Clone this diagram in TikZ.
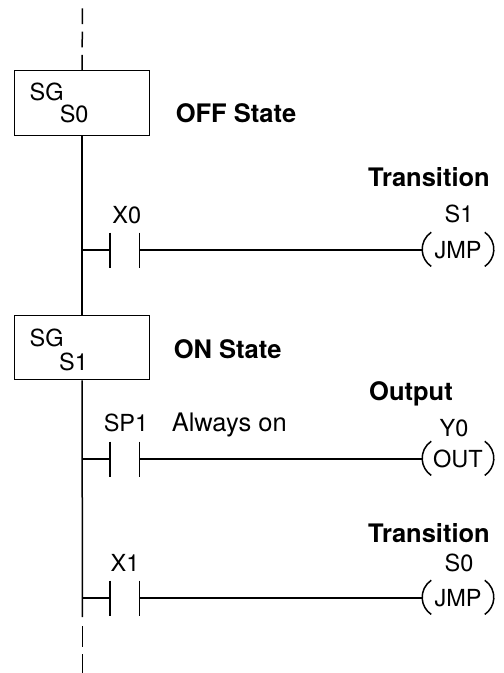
\documentclass[tikz,border=0pt]{standalone}
\usepackage{fontspec}
\setmainfont{TeX Gyre Heros}
\usepackage{tikz}

\tikzset{
    lbl/.style={font=\fontsize{23.5}{28}\selectfont, anchor=base, inner sep=0pt},
    ttl/.style={font=\bfseries\fontsize{25.5}{30}\selectfont, anchor=base, inner sep=0pt},
    stagebox/.style={draw, minimum width=135pt, minimum height=64.5pt, inner sep=0pt, line width=1.3pt},
    coil/.style={minimum width=70pt, minimum height=34pt, inner sep=0pt, font=\fontsize{23.5}{28}\selectfont},
}

\begin{document}
\begin{tikzpicture}[x=1pt,y=-1pt,line width=1.5pt]
    \useasboundingbox (0,0) rectangle (504,673);

    \coordinate (top) at (82.3, 8.3);
    \coordinate (railend) at (82.3, 617);
    \coordinate (dashstart) at (82.3, 626);
    \coordinate (bottom) at (82.3, 673);
    \coordinate (r0) at (82.3, 250);
    \coordinate (r1) at (82.3, 459);
    \coordinate (r2) at (82.3, 598);
    \coordinate (x0a) at (110, 250);
    \coordinate (x0b) at (139.5, 250);
    \coordinate (sp1a) at (110, 459);
    \coordinate (sp1b) at (139.5, 459);
    \coordinate (x1a) at (110, 598);
    \coordinate (x1b) at (139.5, 598);

    \node[stagebox] (sg0) at (82.2, 102.9) {}; % OFF
    \node[stagebox] (sg1) at (82.2, 347.5) {}; % ON
    \node[lbl, anchor=base west] (sg0a) at (29, 100) {SG};
    \node[lbl, anchor=base west] (sg0b) at (59, 122.5) {S0};
    \node[lbl, anchor=base west] (sg1a) at (29, 346.7) {SG};
    \node[lbl, anchor=base west] (sg1b) at (58.5, 370) {S1};
    \node[ttl, anchor=base west] (off) at (175, 122) {OFF State};
    \node[ttl, anchor=base west] (on) at (173, 358.5) {ON State};

    \node[coil] (jmp1) at (458, 250) {JMP};
    \node[coil] (out0) at (458, 459) {OUT};
    \node[coil] (jmp0) at (458, 598) {JMP};

    % rail
    \draw[dash pattern=on 15.7pt off 7.6pt] (top) -- (sg0.north);
    \draw (sg0.south) -- (sg1.north);
    \draw (sg1.south) -- (railend);
    \draw[dash pattern=on 21pt off 7pt] (dashstart) -- (bottom);

    % rungs
    \draw (r0) -- (x0a);
    \draw (x0b) -- (jmp1.west);
    \draw (r1) -- (sp1a);
    \draw (sp1b) -- (out0.west);
    \draw (r2) -- (x1a);
    \draw (x1b) -- (jmp0.west);

    % contacts
    \draw ([yshift=17.5pt]x0a) -- ([yshift=-17.5pt]x0a);
    \draw ([yshift=17.5pt]x0b) -- ([yshift=-17.5pt]x0b);
    \draw ([yshift=17.5pt]sp1a) -- ([yshift=-17.5pt]sp1a);
    \draw ([yshift=17.5pt]sp1b) -- ([yshift=-17.5pt]sp1b);
    \draw ([yshift=17.5pt]x1a) -- ([yshift=-17.5pt]x1a);
    \draw ([yshift=17.5pt]x1b) -- ([yshift=-17.5pt]x1b);

    % coils
    \foreach \c in {jmp1, out0, jmp0} {
        \draw ([xshift=9pt]\c.north west) arc[start angle=124, end angle=236, radius=20.6pt];
        \draw ([xshift=-9pt]\c.north east) arc[start angle=56, end angle=-56, radius=20.6pt];
    }

    \node[lbl] (x0) at (126.7, 223) {X0};
    \node[lbl] (sp1) at (126, 431) {SP1};
    \node[lbl] (x1) at (125, 571.5) {X1};
    \node[lbl, anchor=base west, font=\fontsize{25.5}{30}\selectfont] (always) at (171, 431) {Always on};

    \node[ttl] (tr1) at (429, 186) {Transition};
    \node[lbl] (s1) at (459, 222) {S1};
    \node[ttl] (outp) at (411, 400) {Output};
    \node[lbl] (y0) at (454, 436) {Y0};
    \node[ttl] (tr0) at (429, 542) {Transition};
    \node[lbl] (s0) at (459, 571) {S0};
\end{tikzpicture}
\end{document}
